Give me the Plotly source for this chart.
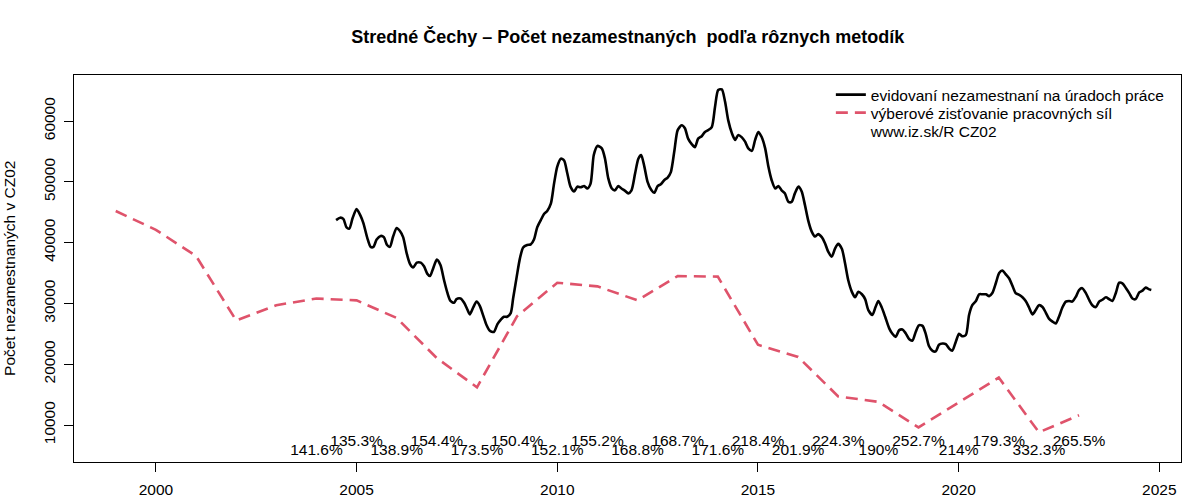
import plotly.graph_objects as go

# ---------------- data ----------------
black_x = [2004.49, 2004.59, 2004.67, 2004.75, 2004.82, 2004.90, 2005.00, 2005.10, 2005.17, 2005.27,
           2005.35, 2005.42, 2005.50, 2005.60, 2005.68, 2005.76, 2005.83, 2005.91, 2006.00, 2006.08,
           2006.16, 2006.25, 2006.33, 2006.41, 2006.50, 2006.60, 2006.68, 2006.76, 2006.83, 2006.91,
           2007.00, 2007.09, 2007.18, 2007.26, 2007.34, 2007.43, 2007.49, 2007.59, 2007.68, 2007.76,
           2007.82, 2007.91, 2007.99, 2008.07, 2008.16, 2008.24, 2008.32, 2008.42, 2008.51, 2008.59,
           2008.67, 2008.75, 2008.84, 2008.90, 2008.99, 2009.07, 2009.15, 2009.25, 2009.34, 2009.42,
           2009.50, 2009.59, 2009.67, 2009.75, 2009.84, 2009.92, 2010.00, 2010.09, 2010.17, 2010.25,
           2010.33, 2010.42, 2010.50, 2010.58, 2010.67, 2010.75, 2010.83, 2010.91, 2011.00, 2011.11,
           2011.19, 2011.27, 2011.36, 2011.44, 2011.52, 2011.60, 2011.69, 2011.77, 2011.85, 2011.94,
           2012.02, 2012.09, 2012.17, 2012.25, 2012.34, 2012.42, 2012.50, 2012.58, 2012.67, 2012.75,
           2012.83, 2012.92, 2013.00, 2013.10, 2013.18, 2013.26, 2013.35, 2013.43, 2013.51, 2013.60,
           2013.68, 2013.76, 2013.85, 2013.93, 2014.01, 2014.10, 2014.18, 2014.26, 2014.35, 2014.43,
           2014.51, 2014.60, 2014.68, 2014.76, 2014.85, 2014.93, 2015.01, 2015.09, 2015.18, 2015.26,
           2015.34, 2015.43, 2015.51, 2015.59, 2015.67, 2015.76, 2015.84, 2015.92, 2016.01, 2016.09,
           2016.17, 2016.25, 2016.34, 2016.42, 2016.50, 2016.59, 2016.67, 2016.75, 2016.84, 2016.92,
           2017.00, 2017.09, 2017.17, 2017.25, 2017.34, 2017.42, 2017.50, 2017.59, 2017.67, 2017.75,
           2017.85, 2017.93, 2018.00, 2018.08, 2018.17, 2018.27, 2018.35, 2018.43, 2018.52, 2018.60,
           2018.68, 2018.77, 2018.85, 2018.93, 2019.01, 2019.10, 2019.18, 2019.26, 2019.35, 2019.43,
           2019.51, 2019.60, 2019.68, 2019.76, 2019.84, 2019.93, 2020.01, 2020.09, 2020.18, 2020.26,
           2020.34, 2020.43, 2020.51, 2020.59, 2020.68, 2020.76, 2020.84, 2020.93, 2021.01, 2021.09,
           2021.17, 2021.26, 2021.34, 2021.42, 2021.51, 2021.59, 2021.67, 2021.75, 2021.84, 2021.92,
           2022.00, 2022.09, 2022.17, 2022.25, 2022.34, 2022.42, 2022.50, 2022.59, 2022.67, 2022.75,
           2022.83, 2022.92, 2023.00, 2023.08, 2023.17, 2023.25, 2023.33, 2023.42, 2023.50, 2023.58,
           2023.67, 2023.75, 2023.83, 2023.92, 2024.00, 2024.08, 2024.17, 2024.25, 2024.33, 2024.41,
           2024.50, 2024.58, 2024.66, 2024.75, 2024.80]

black_y = [43700, 44100, 43900, 42500, 42300, 44000, 45500, 44400, 43200, 40700,
           39300, 39300, 40500, 41100, 40900, 39600, 39300, 41000, 42400, 41900,
           40900, 38200, 36500, 35900, 36700, 36700, 36100, 34900, 34500, 35800,
           37200, 36300, 33800, 31800, 30400, 30100, 30700, 30800, 30100, 29000,
           28200, 29400, 30300, 29600, 27900, 26400, 25500, 25300, 26600, 27300,
           27800, 27800, 28400, 30800, 34400, 37400, 39200, 39600, 39700, 40500,
           42500, 43700, 44700, 45200, 46400, 49700, 52500, 53800, 53500, 51400,
           49200, 48400, 49200, 49100, 49300, 48900, 49700, 54400, 55900, 55500,
           53800, 50600, 48900, 48600, 49300, 48900, 48500, 48100, 48600, 51400,
           53800, 54400, 52500, 50000, 48700, 48200, 49300, 49600, 50300, 50700,
           51600, 55200, 58500, 59300, 58800, 57100, 56200, 55700, 57100, 57500,
           58200, 58500, 59000, 62300, 65100, 65200, 63200, 60100, 58000, 56900,
           57700, 57300, 56600, 55500, 55100, 56900, 58200, 57400, 55500, 52500,
           50300, 48900, 49300, 48600, 48100, 46700, 46700, 48100, 49200, 48400,
           46200, 43700, 41800, 41000, 41400, 40900, 39900, 38500, 37700, 39000,
           39800, 39000, 36600, 33800, 31900, 31000, 31900, 31500, 30700, 28900,
           28100, 29400, 30400, 29400, 27800, 25900, 25000, 24500, 25600, 25700,
           25100, 24100, 23900, 25300, 26400, 26300, 25000, 23000, 22200, 22100,
           23200, 23400, 23300, 22600, 22200, 23700, 25000, 24600, 24800, 28100,
           29700, 30400, 31500, 31500, 31500, 31200, 31700, 33400, 35000, 35400,
           34800, 34100, 32900, 31700, 31400, 31000, 30400, 29400, 28200, 28900,
           29700, 29400, 28500, 27500, 27000, 26700, 27800, 29400, 30300, 30400,
           30300, 31100, 32200, 32500, 31700, 30600, 29700, 29400, 30300, 30600,
           31000, 30700, 30400, 31800, 33400, 33300, 32500, 31700, 30800, 30700,
           31800, 32100, 32600, 32300, 32200]

red_years = [1999, 2000, 2001, 2002, 2003, 2004, 2005, 2006, 2007, 2008, 2009, 2010, 2011,
             2012, 2013, 2014, 2015, 2016, 2017, 2018, 2019, 2020, 2021, 2022, 2023]
red_values = [45200, 42100, 37800, 27200, 29700, 30800, 30500, 27600, 21000, 16200, 27900, 33400, 32800,
              30500, 34500, 34400, 23200, 21200, 14700, 13800, 9600, 13700, 17800, 8800, 11600]

pct_years = [2004, 2005, 2006, 2007, 2008, 2009, 2010, 2011, 2012, 2013,
             2014, 2015, 2016, 2017, 2018, 2019, 2020, 2021, 2022, 2023]
pct_labels = ["141.6%", "135.3%", "138.9%", "154.4%", "173.5%", "150.4%", "152.1%", "155.2%",
              "168.8%", "168.7%", "171.6%", "218.4%", "201.9%", "224.3%", "190%", "252.7%",
              "214%", "179.3%", "332.3%", "265.5%"]

x_ticks = [2000, 2005, 2010, 2015, 2020, 2025]
y_ticks = [10000, 20000, 30000, 40000, 50000, 60000]

name_black = "evidovaní nezamestnaní na úradoch práce"
name_red = "výberové zisťovanie pracovných síl"
name_src = "www.iz.sk/R CZ02"
title_text = "Stredné Čechy – Počet nezamestnaných  podľa rôznych metodík"
ytitle_text = "Počet nezamestnaných v CZ02"

# ---------------- figure ----------------
FONT = "Liberation Sans, Arial, Helvetica, sans-serif"
RED = "#DF536B"
FS = 15.5

# label rows: odd years upper row, even years lower row
pct_y = [7200 if yr % 2 == 1 else 5750 for yr in pct_years]

fig = go.Figure()
fig.add_trace(go.Scatter(x=black_x, y=black_y, mode="lines", name=name_black, legend="legend",
                         line=dict(color="black", width=2.6, shape="spline", smoothing=0.7)))
fig.add_trace(go.Scatter(x=red_years, y=red_values, mode="lines", name=name_red, legend="legend2",
                         line=dict(color=RED, width=2.6, dash="12px,7px")))
fig.add_trace(go.Scatter(x=[None], y=[None], mode="lines", name=name_src, legend="legend3",
                         line=dict(color="rgba(0,0,0,0)", width=0)))
fig.add_trace(go.Scatter(x=pct_years, y=pct_y, mode="text", text=pct_labels,
                         textposition="middle center", showlegend=False,
                         textfont=dict(size=FS, color="black", family=FONT), hoverinfo="skip"))

leg_common = dict(x=0.6837, xanchor="left", yanchor="middle", bgcolor="rgba(0,0,0,0)",
                  borderwidth=0, font=dict(size=FS, family=FONT, color="black"))

fig.update_layout(
    width=1200, height=500,
    paper_bgcolor="white", plot_bgcolor="white",
    margin=dict(l=74, r=19, t=75, b=38, autoexpand=False),
    font=dict(family=FONT, size=FS, color="black"),
    title=dict(text="<b>" + title_text + "</b>", x=0.5232, xanchor="center",
               y=0.927, yanchor="middle", yref="container",
               font=dict(size=18, family=FONT, color="black")),
    showlegend=True,
    legend=dict(y=0.9483, **leg_common),
    legend2=dict(y=0.9018, **leg_common),
    legend3=dict(y=0.8553, **leg_common),
    xaxis=dict(range=[1997.96, 2025.54], tickvals=x_ticks, ticktext=[str(v) for v in x_ticks],
               ticks="outside", ticklen=9, tickcolor="black", tickwidth=1, automargin=False,
               showline=True, linecolor="black", linewidth=1, mirror=True,
               showgrid=False, zeroline=False, tickfont=dict(size=FS), ticklabelstandoff=4),
    yaxis=dict(range=[3914, 67566], tickvals=y_ticks, ticktext=[str(v) for v in y_ticks],
               tickangle=-90, ticks="outside", ticklen=9, tickcolor="black", tickwidth=1,
               automargin=False,
               showline=True, linecolor="black", linewidth=1, mirror=True,
               showgrid=False, zeroline=False, tickfont=dict(size=FS), ticklabelstandoff=3),
    annotations=[dict(text=ytitle_text, xref="paper", yref="paper", x=-0.0583, y=0.5,
                      xanchor="center", yanchor="middle", textangle=-90, showarrow=False,
                      font=dict(size=FS, family=FONT, color="black"))],
)

fig.write_html("out.html", config={"displayModeBar": False},
               post_script="document.body.style.margin='0px';document.body.style.overflow='hidden';")
